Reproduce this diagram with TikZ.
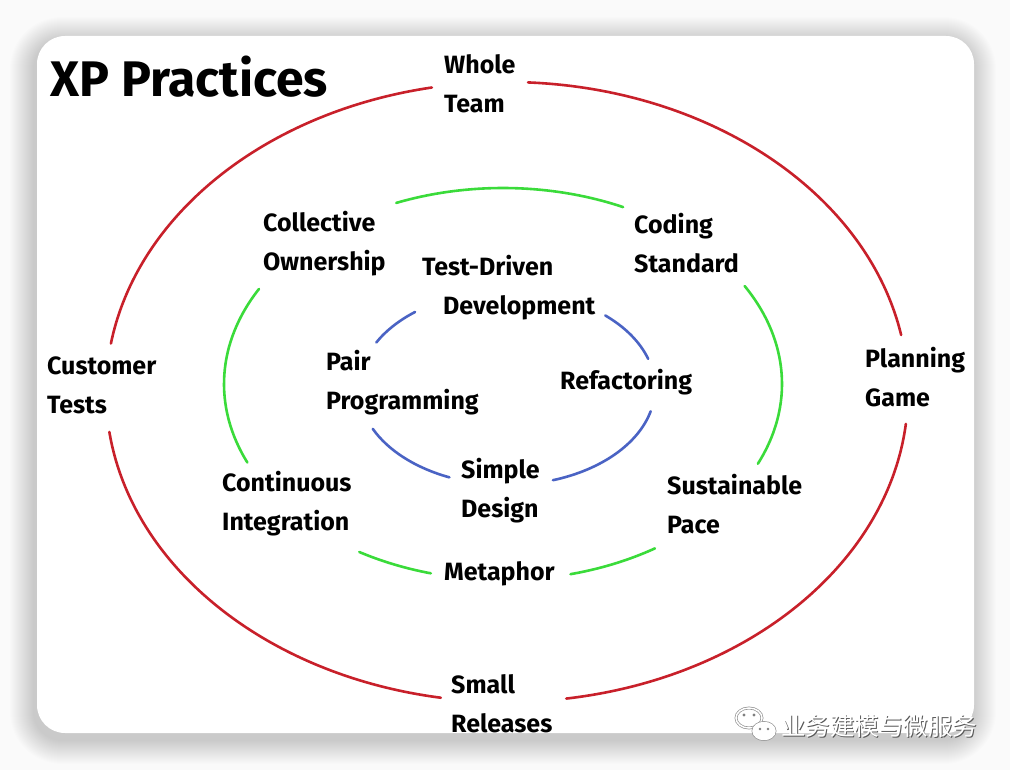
\documentclass[tikz,border=0pt]{standalone}
\usepackage{fontspec}
\setmainfont{Fira Sans}
\newfontfamily\cjkfont{Noto Sans CJK SC}
\definecolor{xpred}{HTML}{C8202A}
\definecolor{xpgreen}{HTML}{3ADB3A}
\definecolor{xpblue}{HTML}{4A63C4}
\definecolor{pagebg}{HTML}{FAFAFA}
% #1 style, #2 cx, #3 cy, #4 rx, #5 ry, #6 start (math angle, y up), #7 end
\newcommand\xparc[7]{%
  \draw[#1] (#2,#3) ++({-(#6)}:{#4} and {#5}) arc[start angle={-(#6)}, end angle={-(#7)}, x radius={#4}, y radius={#5}];}
\begin{document}
\begin{tikzpicture}[x=1pt,y=-1pt,
  lbl/.style={font=\bfseries\fontsize{25}{39}\selectfont, align=left, anchor=west, inner sep=0pt, text=black},
  ring/.style={line width=2.6pt, line cap=round},
  redring/.style={ring, draw=xpred},
  greenring/.style={ring, draw=xpgreen},
  bluering/.style={ring, draw=xpblue},
  card/.style={fill=white, rounded corners=28pt},
  shadowlayer/.style={fill=black, fill opacity=0.0095},
  wmtext/.style={font=\cjkfont\fontsize{24.5}{25}\selectfont, anchor=west, inner sep=0pt},
]
\useasboundingbox (0,0) rectangle (1010,770);
\fill[pagebg] (0,0) rectangle (1010,770);
% soft shadow, slightly shifted down-left
\foreach \d in {1,2,...,24}{
  \fill[shadowlayer, rounded corners={28pt+\d pt}] ({37-3-\d},{36+5-\d}) rectangle ({974-2+\d},{733+7+\d});
}
\path[card] (37,36) rectangle (974,733);

\begin{scope}
\clip[rounded corners=28pt] (37,36) rectangle (974,733);
% outer red ring
\xparc{redring}{507}{392}{401}{310}{10.6}{87}
\xparc{redring}{507}{392}{401}{310}{100.8}{171}
\xparc{redring}{507}{392}{401}{310}{187.4}{260.5}
\xparc{redring}{507}{392}{401}{310}{278.5}{354.1}
% middle green ring
\xparc{greenring}{503}{384}{279}{196}{64.5}{112.5}
\xparc{greenring}{503}{384}{279}{196}{151}{203.6}
\xparc{greenring}{503}{384}{279}{196}{239}{255}
\xparc{greenring}{503}{384}{279}{196}{284}{303}
\xparc{greenring}{503}{384}{279}{196}{336}{390}
% inner blue ring
\xparc{bluering}{507}{388}{148}{97}{128.4}{152}
\xparc{bluering}{507}{388}{148}{97}{17.5}{48.4}
\xparc{bluering}{507}{388}{148}{97}{-71.9}{-13.9}
\xparc{bluering}{507}{388}{148}{97}{204.9}{247.1}

% title and labels
\node[font=\bfseries\fontsize{50}{56}\selectfont, anchor=west, inner sep=0pt] (title) at (50,77) {XP Practices};
\node[lbl] (whole) at (444,84) {Whole\\Team};
\node[lbl] (coll) at (263,244) {Collective\\Ownership};
\node[lbl] (coding) at (634,243) {Coding\\Standard};
\node[lbl] (tdd) at (422,287.5) {Test-Driven\\\hspace*{21pt}Development};
\node[lbl] (cust) at (47,385.5) {Customer\\Tests};
\node[lbl] (plan) at (865,377.5) {Planning\\Game};
\node[lbl] (pair) at (326,382.5) {Pair\\Programming};
\node[lbl] (refac) at (560,382) {Refactoring};
\node[lbl] (simple) at (461,491) {Simple\\Design};
\node[lbl] (ci) at (222,504) {Continuous\\Integration};
\node[lbl] (sust) at (667,504.5) {Sustainable\\Pace};
\node[lbl] (meta) at (444,574) {Metaphor};
\node[lbl] (small) at (451,703.5) {Small\\Releases};
\end{scope}

% watermark
\begin{scope}[line width=1.5pt]
\draw[black!45, line width=2.8pt] (749,718) ellipse [x radius=13, y radius=10];
\draw[white] (749,718) ellipse [x radius=13, y radius=10];
\draw[black!45, line width=2.8pt, fill=white] (764,731) ellipse [x radius=11, y radius=8.5];
\draw[white, fill=white] (764,731) ellipse [x radius=11, y radius=8.5];
\fill[black!50] (744,715) circle (1.6) (754,715) circle (1.6) (760,729) circle (1.4) (768,729) circle (1.4);
\end{scope}
\node[wmtext, text=black!65] (wmshadow) at (782,727) {业务建模与微服务};
\node[wmtext, text=white] (wm) at (781,726) {业务建模与微服务};
\end{tikzpicture}
\end{document}
